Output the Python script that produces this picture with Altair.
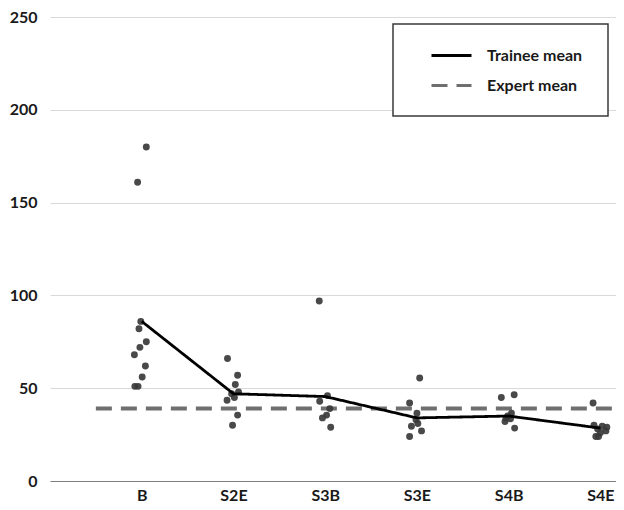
import altair as alt
import pandas as pd

# ---- data ----
categories = ["B", "S2E", "S3B", "S3E", "S4B", "S4E"]
trainee_mean = [86, 47, 45.5, 34, 35, 28.5]
expert_mean = 39
expert_start = 0.5

b_vals = [180, 161, 86, 82, 75, 72, 68, 62, 56, 51, 51]
b_jit = [0.05, -0.045, -0.01, -0.03, 0.05, -0.02, -0.08, 0.04, 0.005, -0.075, -0.04]
s2e_vals = [66, 57, 52, 48, 47, 45, 43.5, 35.5, 30]
s2e_jit = [-0.065, 0.045, 0.02, 0.055, -0.02, 0.01, -0.07, 0.045, -0.01]
s3b_vals = [97, 46, 43, 39, 35.5, 34, 29]
s3b_jit = [-0.065, 0.025, -0.06, 0.05, 0.015, -0.03, 0.06]
s3e_vals = [55.5, 42, 36.5, 33, 31, 29.5, 27, 24]
s3e_jit = [0.03, -0.08, 0.0, -0.01, 0.01, -0.06, 0.05, -0.08]
s4b_vals = [45, 46.5, 36.5, 35, 34, 33.5, 32, 28.5]
s4b_jit = [-0.08, 0.06, 0.03, -0.01, -0.03, 0.02, -0.04, 0.065]
s4e_vals = [42, 30, 29.5, 29, 28, 27, 26, 24, 24]
s4e_jit = [-0.08, -0.07, 0.02, 0.07, -0.03, 0.06, 0.0, -0.05, -0.02]

series_names = ["Trainee mean", "Expert mean"]
x_max = 6.17

groups = [
    (b_vals, b_jit), (s2e_vals, s2e_jit), (s3b_vals, s3b_jit),
    (s3e_vals, s3e_jit), (s4b_vals, s4b_jit), (s4e_vals, s4e_jit),
]
rows = []
for i, (vals, jit) in enumerate(groups):
    for v, j in zip(vals, jit):
        rows.append({"x": i + 1 + j, "value": v, "session": categories[i]})
points_df = pd.DataFrame(rows)

mean_df = pd.DataFrame({
    "x": list(range(1, len(categories) + 1)),
    "value": trainee_mean,
    "series": [series_names[0]] * len(categories),
})
expert_df = pd.DataFrame({
    "x": [expert_start], "x2": [x_max], "value": [expert_mean], "series": [series_names[1]],
})

FONT = "Lato"
label_expr = "[" + ",".join("'%s'" % c for c in categories) + "][datum.value - 1]"

x_scale = alt.Scale(domain=[0, x_max], nice=False, zero=False)
y_scale = alt.Scale(domain=[0, 250], nice=False)

x_axis = alt.Axis(values=list(range(1, len(categories) + 1)), labelExpr=label_expr,
                  ticks=False, grid=False, domain=True, domainColor="#7f7f7f",
                  domainWidth=1.2, labelPadding=6, labelFont=FONT, labelFontSize=16,
                  labelFontWeight="bold", labelColor="#1a1a1a", title=None)
y_axis = alt.Axis(values=[0, 50, 100, 150, 200, 250], ticks=False, domain=False,
                  grid=True, gridColor="#d9d9d9", gridWidth=1, labelPadding=13,
                  labelFont=FONT, labelFontSize=16, labelFontWeight="bold",
                  labelColor="#1a1a1a", title=None)

color_scale = alt.Scale(domain=series_names, range=["#000000", "#6f6f6f"])
dash_scale = alt.Scale(domain=series_names, range=[[1, 0], [16, 9]])
legend = alt.Legend(title="\u00a0", titleOrient="bottom", orient="none",
                    legendX=343, legendY=7,
                    labelExpr="datum.label + '\u00a0\u00a0\u00a0\u00a0\u200b'")

expert = alt.Chart(expert_df).mark_rule(strokeWidth=4).encode(
    x=alt.X("x:Q", scale=x_scale, axis=x_axis),
    x2="x2:Q",
    y=alt.Y("value:Q", scale=y_scale, axis=y_axis),
    color=alt.Color("series:N", scale=color_scale, legend=legend),
    strokeDash=alt.StrokeDash("series:N", scale=dash_scale, legend=legend),
)

pts = alt.Chart(points_df).mark_circle(size=48, color="#3a3a3a", opacity=0.92).encode(
    x=alt.X("x:Q", scale=x_scale, axis=x_axis),
    y=alt.Y("value:Q", scale=y_scale, axis=y_axis),
)

line = alt.Chart(mean_df).mark_line(strokeWidth=2.8).encode(
    x=alt.X("x:Q", scale=x_scale, axis=x_axis),
    y=alt.Y("value:Q", scale=y_scale, axis=y_axis),
    color=alt.Color("series:N", scale=color_scale, legend=legend),
    strokeDash=alt.StrokeDash("series:N", scale=dash_scale, legend=legend),
)

chart = alt.layer(expert, pts, line).properties(
    width=566, height=464,
    autosize="none",
    padding={"left": 42, "top": 9, "right": 0, "bottom": 23},
).configure_view(stroke=None).configure_legend(
    padding=10, rowPadding=-13, symbolSize=1600, symbolStrokeWidth=3,
    symbolOffset=27, labelOffset=14, labelFont=FONT, labelFontSize=16,
    labelFontWeight="bold", labelColor="#1a1a1a", strokeColor="#3a3a3a",
    strokeWidth=1.5, fillColor="#ffffff", symbolType="stroke",
    titleFontSize=12, titlePadding=1, titleFont=FONT,
)

chart.save("out.html", embed_options={"renderer": "svg", "actions": False})
